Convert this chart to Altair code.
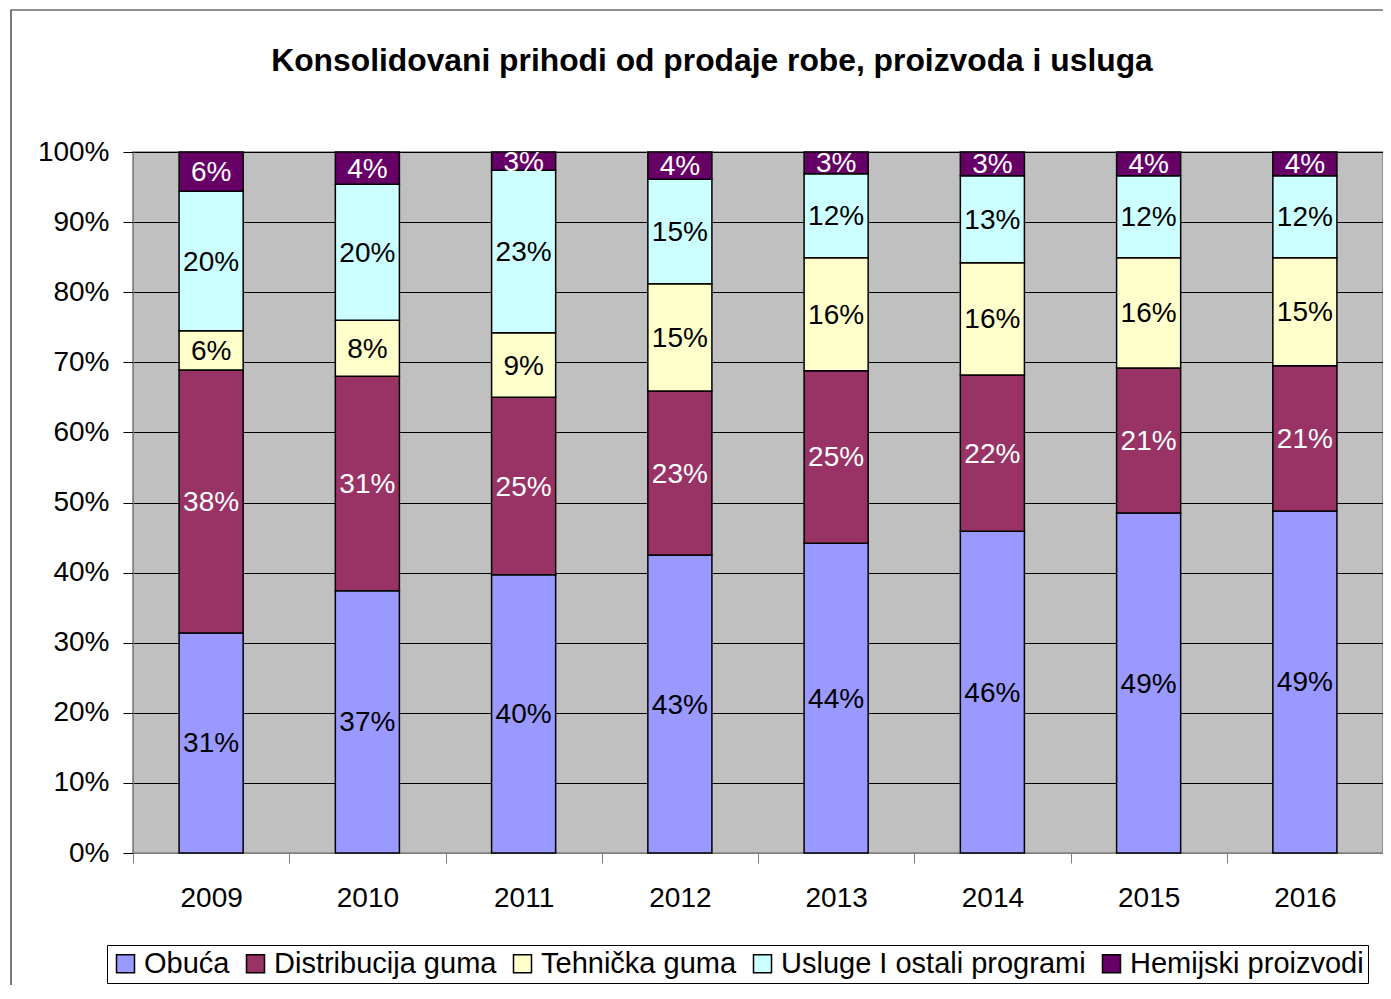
import altair as alt
import pandas as pd

title_text = "Konsolidovani prihodi od prodaje robe, proizvoda i usluga"
years = ["2009", "2010", "2011", "2012", "2013", "2014", "2015", "2016"]
series = ["Obuća", "Distribucija guma", "Tehnička guma", "Usluge I ostali programi", "Hemijski proizvodi"]

obuca = [31.4, 37.4, 39.7, 42.5, 44.2, 45.9, 48.5, 48.8]
distribucija = [37.5, 30.6, 25.3, 23.4, 24.6, 22.3, 20.7, 20.7]
tehnicka = [5.6, 8.0, 9.2, 15.3, 16.1, 16.0, 15.7, 15.4]
usluge = [19.9, 19.4, 23.2, 14.9, 12.0, 12.4, 11.7, 11.7]
hemijski = [5.6, 4.6, 2.6, 3.9, 3.1, 3.4, 3.4, 3.4]

lab_obuca = ["31%", "37%", "40%", "43%", "44%", "46%", "49%", "49%"]
lab_distribucija = ["38%", "31%", "25%", "23%", "25%", "22%", "21%", "21%"]
lab_tehnicka = ["6%", "8%", "9%", "15%", "16%", "16%", "16%", "15%"]
lab_usluge = ["20%", "20%", "23%", "15%", "12%", "13%", "12%", "12%"]
lab_hemijski = ["6%", "4%", "3%", "4%", "3%", "3%", "4%", "4%"]

colors = ["#9999FF", "#993366", "#FFFFCC", "#CCFFFF", "#660066"]
text_colors = ["black", "white", "black", "black", "white"]

vals = [obuca, distribucija, tehnicka, usluge, hemijski]
labs = [lab_obuca, lab_distribucija, lab_tehnicka, lab_usluge, lab_hemijski]

rows = []
for si, s in enumerate(series):
    for yi, y in enumerate(years):
        rows.append({"year": y, "series": s, "idx": si, "value": vals[si][yi],
                     "label": labs[si][yi], "tcolor": text_colors[si]})
df = pd.DataFrame(rows)

FONT = "Liberation Sans"

base = alt.Chart(df).transform_stack(
    stack="value", groupby=["year"], sort=[alt.SortField("idx")], as_=["y0", "y1"]
).transform_calculate(mid="(datum.y0 + datum.y1) / 2")

xenc = alt.X("year:N", title=None, sort=years,
             scale=alt.Scale(paddingInner=0, paddingOuter=0),
             axis=alt.Axis(tickBand="extent", tickSize=10, tickColor="#808080",
                           domainColor="#808080", labelFontSize=28, labelFont=FONT,
                           labelColor="black", labelAngle=0, labelPadding=21, grid=False))

bars = base.mark_bar(stroke="black", strokeWidth=1.5, width=alt.RelativeBandSize(0.41)).encode(
    x=xenc,
    y=alt.Y("y0:Q", title=None,
            scale=alt.Scale(domain=[0, 100], nice=False),
            axis=alt.Axis(values=list(range(0, 101, 10)), labelExpr="datum.value + '%'",
                          tickSize=10, tickColor="black", domainColor="#808080",
                          grid=True, gridColor="#000000", gridWidth=1,
                          labelFontSize=28, labelFont=FONT, labelColor="black", labelPadding=14)),
    y2="y1:Q",
    color=alt.Color("series:N", sort=series,
                    scale=alt.Scale(domain=series, range=colors),
                    legend=alt.Legend(title=None, orient="none", direction="horizontal",
                                      legendX=-26, legendY=793,
                                      symbolType="square", symbolSize=324,
                                      symbolStrokeColor="black", symbolStrokeWidth=1.5,
                                      labelFontSize=29, labelFont=FONT, labelColor="black",
                                      labelOffset=4, columnPadding=11,
                                      strokeColor="black", padding=4,
                                      fillColor="white", labelLimit=600)),
)

texts = base.mark_text(fontSize=28, font=FONT, baseline="middle", align="center", dy=1.5).encode(
    x=alt.X("year:N", sort=years),
    y=alt.Y("mid:Q"),
    text="label:N",
    color=alt.Color("tcolor:N", scale=None, legend=None),
)

border = alt.Chart(pd.DataFrame({"a": [0]})).mark_rect(
    fill=None, stroke="#222222", strokeWidth=1.2, clip=False
).encode(x=alt.value(-122), x2=alt.value(1400), y=alt.value(-142), y2=alt.value(1000))

title = alt.Chart(pd.DataFrame({"t": [title_text]})).mark_text(
    font=FONT, fontSize=31.8, fontWeight="bold", color="black",
    align="center", baseline="alphabetic", clip=False
).encode(x=alt.value(579), y=alt.value(-81), text="t:N")

chart = alt.layer(border, bars, texts, title).properties(
    width=1250, height=701,
    autosize=alt.AutoSizeParams(type="none"),
    padding={"left": 125, "top": 144, "right": 0, "bottom": 132},
).configure_view(fill="#C0C0C0", stroke="#808080", strokeWidth=1.5)

chart.save("out.html", embed_options={"renderer": "svg", "actions": False})
